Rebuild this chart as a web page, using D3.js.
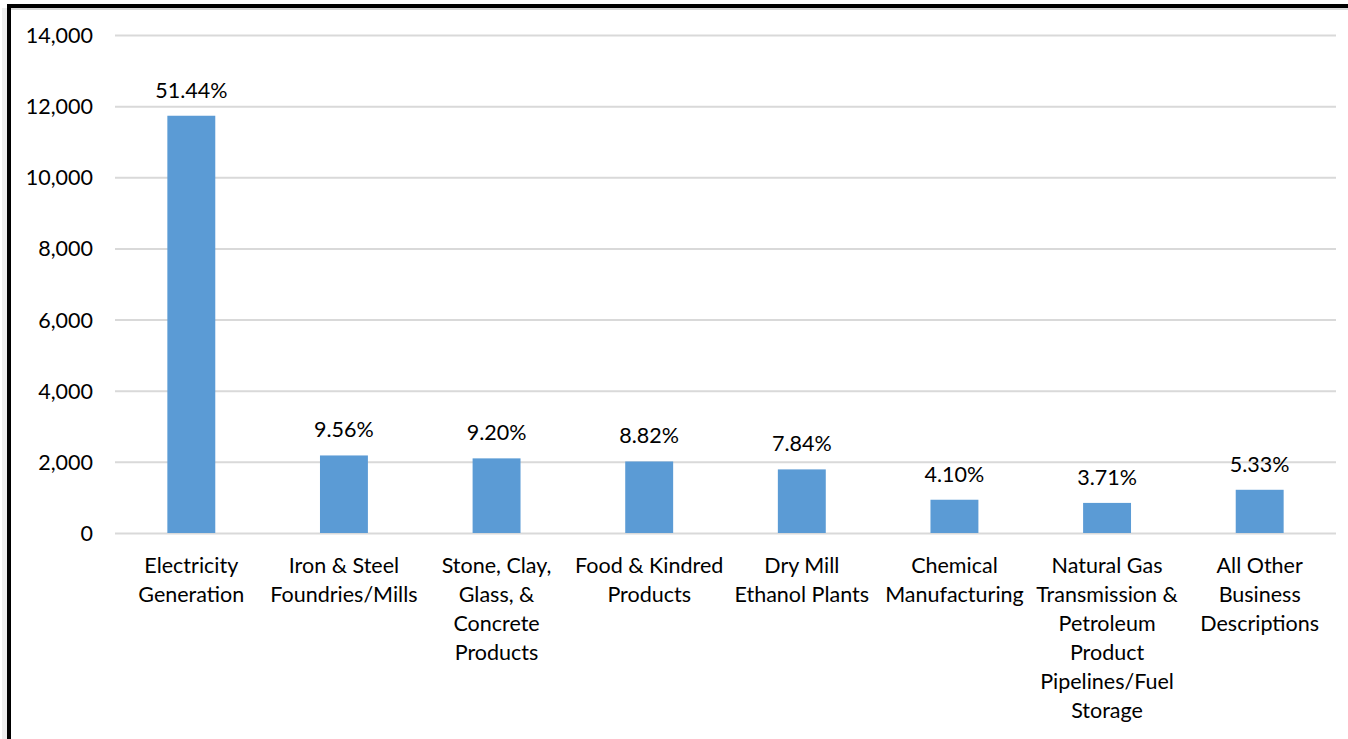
<!DOCTYPE html>
<html>
<head>
<meta charset="utf-8">
<script src="https://cdn.jsdelivr.net/npm/d3@7"></script>
<style>
  html, body { margin: 0; padding: 0; background: #fff; }
  svg { display: block; }
  text { font-family: Lato, "Open Sans", sans-serif; fill: #000; }
</style>
</head>
<body>
<svg id="chart" width="1348" height="739"></svg>
<script>
// Categories, each split into the lines shown under the axis
const categories = [
  ["Electricity", "Generation"],
  ["Iron & Steel", "Foundries/Mills"],
  ["Stone, Clay,", "Glass, &", "Concrete", "Products"],
  ["Food & Kindred", "Products"],
  ["Dry Mill", "Ethanol Plants"],
  ["Chemical", "Manufacturing"],
  ["Natural Gas", "Transmission &", "Petroleum", "Product", "Pipelines/Fuel", "Storage"],
  ["All Other", "Business", "Descriptions"]
];
const values = [11730, 2180, 2098, 2011, 1788, 935, 846, 1215];
const shareLabels = ["51.44%", "9.56%", "9.20%", "8.82%", "7.84%", "4.10%", "3.71%", "5.33%"];
const yTicks = [0, 2000, 4000, 6000, 8000, 10000, 12000, 14000];

const svg = d3.select("#chart");
const W = 1348, H = 739;
const plot = { left: 115, right: 1336, top: 35, bottom: 533 };

// Frame: soft shadow plus heavy black top and left edges
svg.append("rect").attr("x", 2).attr("y", 8).attr("width", 5).attr("height", H - 8)
  .attr("fill", "#ededed");
svg.append("rect").attr("x", 7).attr("y", 8).attr("width", W - 7).attr("height", 2)
  .attr("fill", "#d8d8d8");
svg.append("rect").attr("x", 7).attr("y", 4).attr("width", W - 7).attr("height", 4)
  .attr("fill", "#000");
svg.append("rect").attr("x", 7).attr("y", 4).attr("width", 4).attr("height", H - 4)
  .attr("fill", "#000");

const idx = d3.range(categories.length);
const x = d3.scaleBand().domain(idx).range([plot.left, plot.right])
  .paddingInner(0.686).paddingOuter(0.343);
const y = d3.scaleLinear().domain([0, 14000]).range([plot.bottom, plot.top]);

// Horizontal gridlines and value axis labels
const yAxis = d3.axisLeft(y).tickValues(yTicks)
  .tickSize(-(plot.right - plot.left)).tickPadding(22)
  .tickFormat(d3.format(","));
const gy = svg.append("g").attr("transform", `translate(${plot.left},0)`).call(yAxis);
gy.select(".domain").remove();
gy.selectAll(".tick line").attr("stroke", "#d9d9d9").attr("stroke-width", 2);
gy.selectAll(".tick text").attr("font-size", 21.5).attr("dy", "0.35em")
  .style("font-family", "Lato, 'Open Sans', sans-serif");

// Bars
svg.append("g").selectAll("rect").data(idx).join("rect")
  .attr("x", i => x(i))
  .attr("y", i => y(values[i]))
  .attr("width", x.bandwidth())
  .attr("height", i => y(0) - y(values[i]))
  .attr("fill", "#5b9bd5");

// Share labels above bars
svg.append("g").selectAll("text").data(idx).join("text")
  .attr("x", i => x(i) + x.bandwidth() / 2)
  .attr("y", i => y(values[i]) - 18)
  .attr("text-anchor", "middle")
  .attr("font-size", 21.5)
  .text(i => shareLabels[i]);

// Category labels, wrapped
const cat = svg.append("g").selectAll("text").data(idx).join("text")
  .attr("text-anchor", "middle")
  .attr("font-size", 21.5);
cat.each(function(i) {
  const t = d3.select(this);
  categories[i].forEach((line, k) => {
    t.append("tspan")
      .attr("x", x(i) + x.bandwidth() / 2)
      .attr("y", 573 + k * 29)
      .text(line);
  });
});
</script>
</body>
</html>
